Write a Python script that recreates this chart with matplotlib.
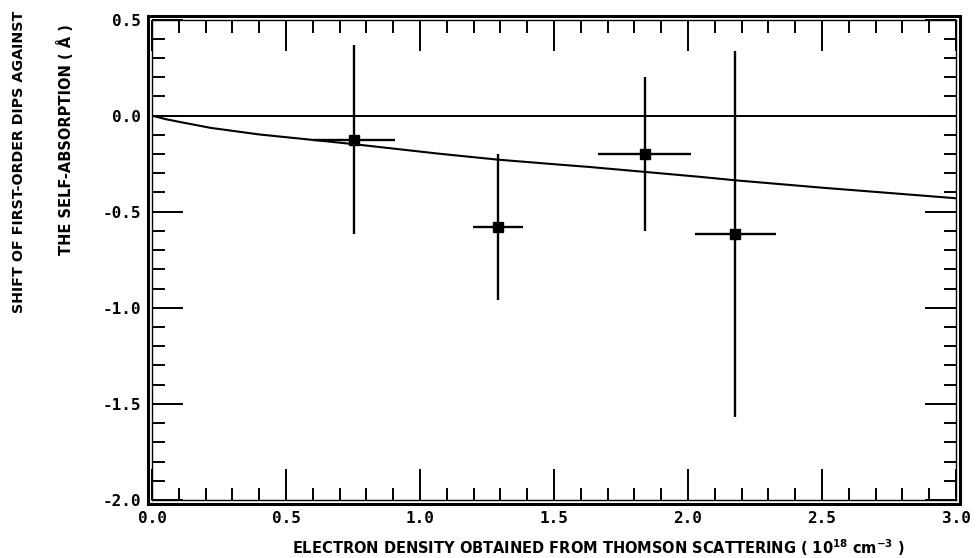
import matplotlib
matplotlib.use("Agg")
import matplotlib.pyplot as plt
import matplotlib.patches as patches
from matplotlib.ticker import MultipleLocator, FormatStrFormatter

plt.rcParams['font.family'] = ['DejaVu Sans', 'DejaVu Sans Mono']
plt.rcParams['axes.unicode_minus'] = False
plt.rcParams['mathtext.default'] = 'bf'

# measured shifts with error bars
density = [0.752, 1.291, 1.838, 2.177]
density_err = [0.153, 0.093, 0.172, 0.152]
shift = [-0.125, -0.58, -0.20, -0.616]
shift_err = [0.49, 0.38, 0.40, 0.95]

# theoretical curve
curve_x = [0.0, 0.05, 0.10, 0.22, 0.40, 0.59, 0.75, 1.07, 1.29, 1.52, 1.63, 1.84, 2.04, 2.18, 2.50, 3.00]
curve_y = [0.0, -0.018, -0.032, -0.064, -0.098, -0.125, -0.148, -0.198, -0.229, -0.255, -0.267, -0.293, -0.318, -0.337, -0.375, -0.430]

fig = plt.figure(figsize=(9.76, 5.58), dpi=100)
ax = fig.add_axes([0.1557, 0.104, 0.8238, 0.861])

ax.axhline(0.0, color='black', lw=1.4)
ax.plot(curve_x, curve_y, color='black', lw=1.5)
ax.errorbar(density, shift, xerr=density_err, yerr=shift_err, fmt='s',
            color='black', ms=7, elinewidth=1.7, capsize=0)

ax.set_xlim(0, 3.0)
ax.set_ylim(-2.0, 0.5)
ax.xaxis.set_major_locator(MultipleLocator(0.5))
ax.xaxis.set_minor_locator(MultipleLocator(0.1))
ax.yaxis.set_major_locator(MultipleLocator(0.5))
ax.yaxis.set_minor_locator(MultipleLocator(0.1))
ax.xaxis.set_major_formatter(FormatStrFormatter('%.1f'))
ax.yaxis.set_major_formatter(FormatStrFormatter('%.1f'))
ax.tick_params(which='both', direction='in', top=True, right=True, color='black')
ax.tick_params(which='major', length=22, width=1.4, pad=8)
ax.tick_params(which='minor', length=9, width=1.4)
for lab in ax.get_xticklabels() + ax.get_yticklabels():
    lab.set_family('DejaVu Sans Mono')
    lab.set_fontweight('bold')
    lab.set_fontsize(11.5)
for sp in ax.spines.values():
    sp.set_linewidth(1.0)

# outer heavy frame
dx = 4.0 / (0.8238 * 976)
dy = 4.0 / (0.861 * 558)
frame = patches.Rectangle((-dx, -dy), 1 + 2 * dx, 1 + 2 * dy, transform=ax.transAxes,
                          fill=False, lw=2.2, edgecolor='black', clip_on=False)
ax.add_patch(frame)

fig.text(0.613, 0.018, r'ELECTRON DENSITY OBTAINED FROM THOMSON SCATTERING ( 10$^{18}$ cm$^{-3}$ )',
         ha='center', va='center', fontsize=10.5, fontweight='bold')
fig.text(0.019, 0.71, 'SHIFT OF FIRST-ORDER DIPS AGAINST', rotation=90,
         ha='center', va='center', fontsize=10.3, fontweight='bold')
fig.text(0.067, 0.75, 'THE SELF-ABSORPTION ( Å )', rotation=90,
         ha='center', va='center', fontsize=10.5, fontweight='bold')

fig.savefig('out.png', dpi=100)
